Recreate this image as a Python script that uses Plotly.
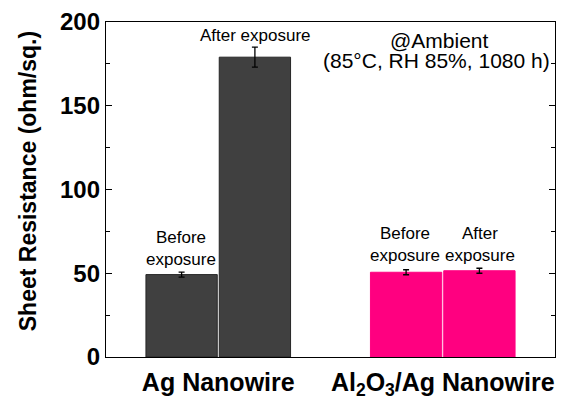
import plotly.graph_objects as go

groups = ["Ag Nanowire", "Al<sub>2</sub>O<sub>3</sub>/Ag Nanowire"]
before_vals = [49.2, 50.6]
before_err = [1.5, 1.5]
after_vals = [179.0, 51.5]
after_err = [6.0, 1.5]
bar_colors = ["#404040", "#ff0080"]
line_colors = ["#262626", "#ff0080"]
x_pos = [1, 2]
y_ticks = [0, 50, 100, 150, 200]
y_minor = [25, 75, 125, 175]

fig = go.Figure()
fig.add_trace(go.Bar(
    x=x_pos, y=before_vals, name="Before exposure",
    marker=dict(color=bar_colors, line=dict(color=line_colors, width=1)),
    error_y=dict(type="data", array=before_err, color="black", thickness=1.3, width=3),
))
fig.add_trace(go.Bar(
    x=x_pos, y=after_vals, name="After exposure",
    marker=dict(color=bar_colors, line=dict(color=line_colors, width=1)),
    error_y=dict(type="data", array=after_err, color="black", thickness=1.3, width=3),
))

off = 0.1675
FONT = "Liberation Sans, Arial"
font_small = dict(family=FONT, size=17, color="black")
# Ag group: separate labels; Al2O3 group: labels share one baseline
fig.add_annotation(x=x_pos[0] - off, y=before_vals[0] + before_err[0], text="Before<br>exposure",
                   showarrow=False, yanchor="bottom", yshift=1, font=font_small)
fig.add_annotation(x=x_pos[0] + off, y=after_vals[0] + after_err[0], text="After exposure",
                   showarrow=False, yanchor="bottom", yshift=0, font=font_small)
top2 = max(before_vals[1] + before_err[1], after_vals[1] + after_err[1])
fig.add_annotation(x=x_pos[1] - off, y=top2, text="Before<br>exposure",
                   showarrow=False, yanchor="bottom", yshift=1, font=font_small)
fig.add_annotation(x=x_pos[1] + off, y=top2, text="After<br>exposure",
                   showarrow=False, yanchor="bottom", yshift=1, font=font_small)

font_amb = dict(family=FONT, size=21, color="black")
fig.add_annotation(x=0.742, xref="paper", y=0.944, yref="paper", text="@Ambient",
                   showarrow=False, xanchor="center", yanchor="middle", font=font_amb)
fig.add_annotation(x=0.736, xref="paper", y=0.884, yref="paper", text="(85°C, RH 85%, 1080 h)",
                   showarrow=False, xanchor="center", yanchor="middle", font=font_amb)

# y-axis title as rotated annotation
fig.add_annotation(x=-0.172, xref="paper", y=0.524, yref="paper",
                   text="<b>Sheet Resistance (ohm/sq.)</b>", textangle=-90,
                   showarrow=False, xanchor="center", yanchor="middle",
                   font=dict(family=FONT, size=23, color="black"))

fig.update_layout(
    width=561, height=399,
    margin=dict(l=106, r=6, t=22, b=42, autoexpand=False),
    paper_bgcolor="white", plot_bgcolor="white",
    barmode="group", bargap=0.347, bargroupgap=0.027,
    showlegend=False,
    font=dict(family=FONT, color="black"),
)
fig.update_xaxes(
    range=[0.5, 2.5], tickvals=x_pos, ticktext=["<b>" + g + "</b>" for g in groups],
    tickfont=dict(size=25), showline=True, linecolor="black", linewidth=1.3, mirror=True,
    ticks="", showgrid=False, zeroline=False, ticklabelstandoff=3, automargin=False,
)
fig.update_yaxes(
    range=[0, 200], tickvals=y_ticks,
    ticktext=["<b>%d</b>" % v for v in y_ticks],
    tickfont=dict(size=24), showline=True, linecolor="black", linewidth=1.3, mirror="allticks",
    ticks="inside", ticklen=6, tickcolor="black",
    minor=dict(tickvals=y_minor, ticks="inside", ticklen=4, tickcolor="black"),
    showgrid=False, zeroline=False, automargin=False,
)
fig.write_html("out.html", config={"displayModeBar": False},
               post_script="document.body.style.margin='0';")
